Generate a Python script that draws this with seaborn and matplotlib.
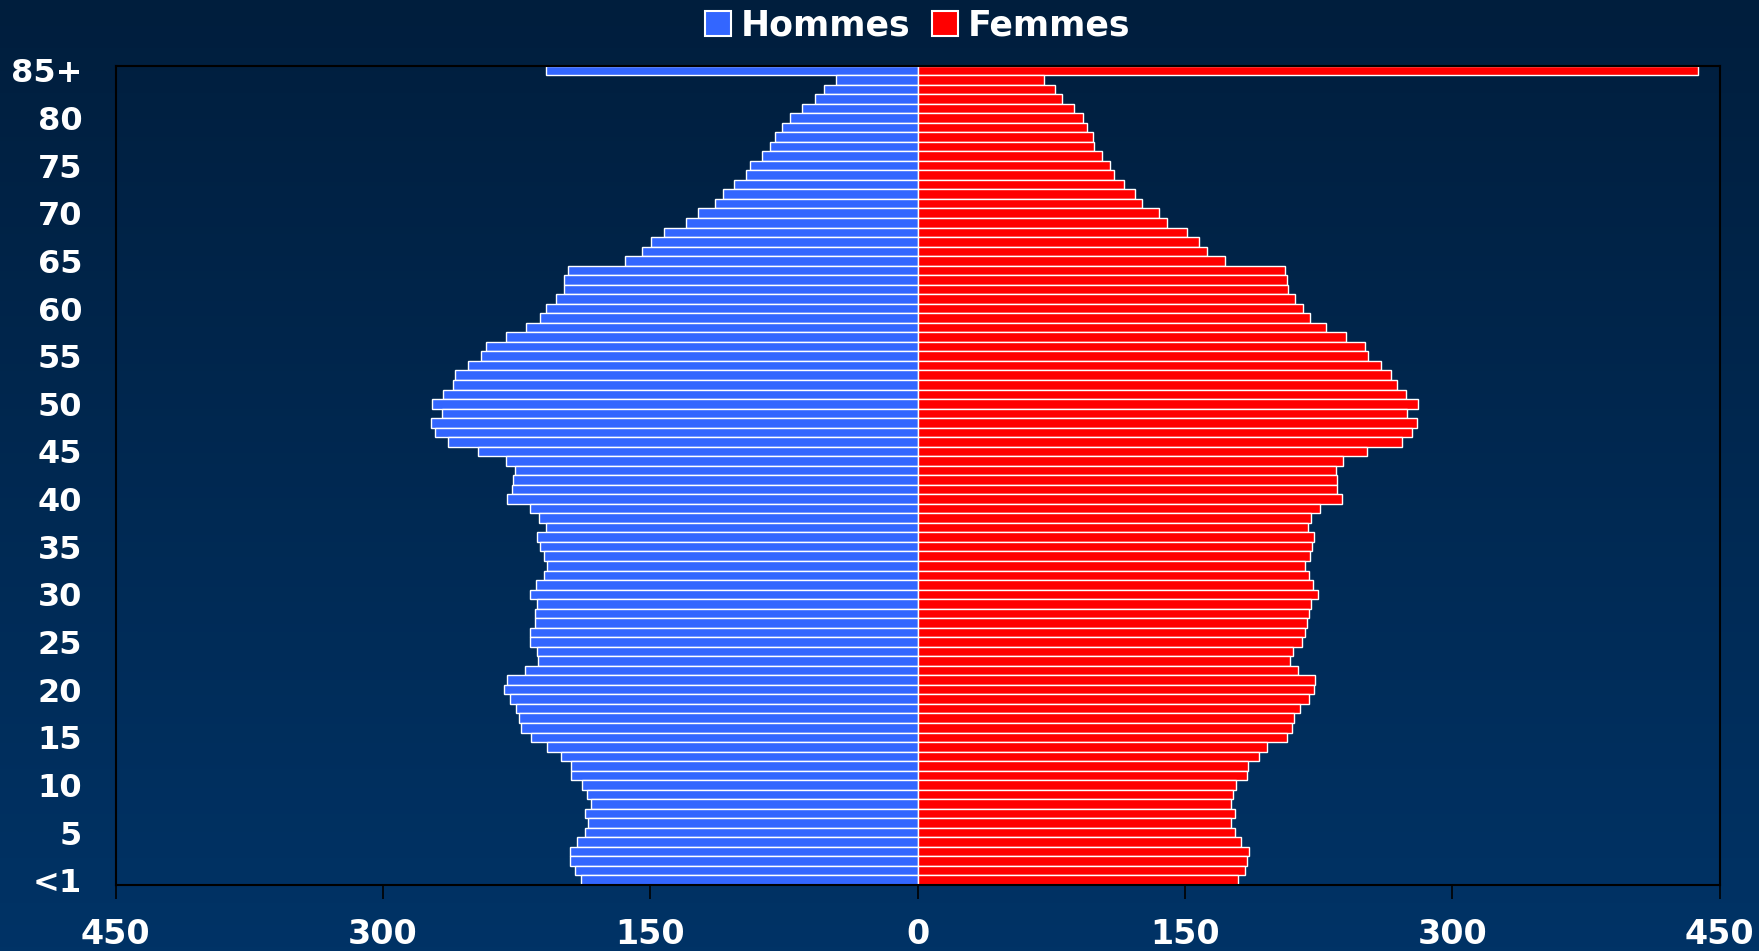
import numpy as np
import pandas as pd
import matplotlib
matplotlib.use("Agg")
import matplotlib.pyplot as plt
import seaborn as sns
from matplotlib.patches import Patch
from matplotlib.colors import LinearSegmentedColormap

# Pyramide des âges : effectifs par âge (de <1 à 85+)
ages = ["<1"] + [str(a) for a in range(1, 85)] + ["85+"]

hommes = [188.7, 192.4, 195.1, 195.1, 191.3, 186.8, 185.0, 186.8, 183.5, 185.3,
          188.3, 194.3, 194.5, 200.3, 208.1, 217.1, 222.7, 223.5, 225.2, 228.7,
          232.1, 230.5, 220.5, 213.0, 213.6, 217.5, 217.3, 214.9, 214.9, 213.4,
          217.7, 214.1, 209.5, 208.1, 209.7, 211.7, 213.4, 208.7, 212.6, 217.7,
          230.6, 227.6, 226.8, 226.0, 230.8, 246.9, 263.5, 271.0, 273.1, 266.9,
          272.3, 266.1, 260.9, 259.6, 252.3, 245.2, 242.0, 230.8, 219.5, 211.9,
          208.5, 202.9, 198.4, 198.6, 196.4, 164.0, 154.5, 149.6, 142.1, 129.8,
          123.1, 113.7, 109.2, 102.9, 96.1, 93.9, 87.5, 82.7, 80.2, 75.9,
          71.4, 64.7, 57.4, 52.7, 46.0, 208.7]

femmes = [179.7, 183.5, 184.8, 186.1, 181.6, 178.1, 175.6, 177.9, 175.6, 176.9,
          178.4, 184.8, 185.5, 191.3, 196.0, 207.0, 209.8, 210.9, 214.5, 219.6,
          222.2, 223.1, 213.4, 208.7, 210.8, 215.4, 217.3, 218.2, 219.7, 220.9,
          224.6, 222.0, 219.4, 217.5, 219.9, 221.4, 222.5, 219.0, 220.5, 225.5,
          237.9, 235.4, 235.4, 234.9, 238.6, 252.3, 271.7, 277.5, 280.0, 274.4,
          280.7, 274.2, 269.1, 265.8, 260.1, 252.5, 251.0, 240.5, 229.3, 220.1,
          216.4, 211.5, 207.8, 207.2, 206.3, 172.2, 162.3, 158.0, 150.9, 140.1,
          135.2, 126.0, 121.7, 115.9, 110.2, 108.1, 103.6, 98.7, 98.4, 95.2,
          92.9, 87.5, 80.8, 77.2, 70.9, 438.0]

age_ticks = ["85+", "80", "75", "70", "65", "60", "55", "50", "45", "40", "35",
             "30", "25", "20", "15", "10", "5", "<1"]
x_ticks = [-450, -300, -150, 0, 150, 300, 450]

df = pd.DataFrame({"age": ages, "hommes": hommes, "femmes": femmes})
df["hommes_neg"] = -df["hommes"]

bleu = "#3366FF"
rouge = "#FF0000"

sns.set_theme(style="white")
plt.rcParams["font.family"] = ["DejaVu Sans"]
plt.rcParams["font.weight"] = "bold"

fig = plt.figure(figsize=(17.59, 9.51), dpi=100)

# fond en dégradé bleu nuit
bg = fig.add_axes([0, 0, 1, 1], zorder=-10)
cmap = LinearSegmentedColormap.from_list("fond", ["#001E3D", "#003366"])
bg.imshow(np.linspace(0, 1, 256).reshape(-1, 1), aspect="auto", cmap=cmap,
          extent=[0, 1, 0, 1])
bg.axis("off")

ax = fig.add_axes([0.0657, 0.0694, 0.9120, 0.8617])
ax.set_facecolor("none")

ordre = ages[::-1]
sns.barplot(data=df, x="hommes_neg", y="age", order=ordre, orient="h",
            color=bleu, saturation=1, width=1.0, edgecolor="white",
            linewidth=1.0, ax=ax)
sns.barplot(data=df, x="femmes", y="age", order=ordre, orient="h",
            color=rouge, saturation=1, width=1.0, edgecolor="white",
            linewidth=1.0, ax=ax)

ax.set_xlim(-450, 450)
ax.set_xticks(x_ticks)
ax.set_xticklabels([str(abs(v)) for v in x_ticks])
ax.set_yticks([ordre.index(a) for a in age_ticks])
ax.set_yticklabels(age_ticks)
ax.set_xlabel("")
ax.set_ylabel("")

ax.tick_params(axis="x", direction="out", length=10, width=1.2, color="black",
               pad=14, labelsize=24, labelcolor="white", bottom=True)
ax.tick_params(axis="y", length=0, pad=24, labelsize=23, labelcolor="white")
for lab in ax.get_xticklabels() + ax.get_yticklabels():
    lab.set_fontweight("bold")

for s in ax.spines.values():
    s.set_visible(True)
    s.set_color("black")
    s.set_linewidth(1.5)

handles = [Patch(facecolor=bleu, edgecolor="white", linewidth=1.5, label="Hommes"),
           Patch(facecolor=rouge, edgecolor="white", linewidth=1.5, label="Femmes")]
leg = fig.legend(handles=handles, loc="center", bbox_to_anchor=(0.5217, 0.9727),
                 ncol=2, frameon=False, fontsize=25, handlelength=0.75,
                 handleheight=0.72, handletextpad=0.3, columnspacing=0.6)
for t in leg.get_texts():
    t.set_color("white")
    t.set_fontweight("bold")

fig.savefig("out.png", dpi=100)
plt.close(fig)
